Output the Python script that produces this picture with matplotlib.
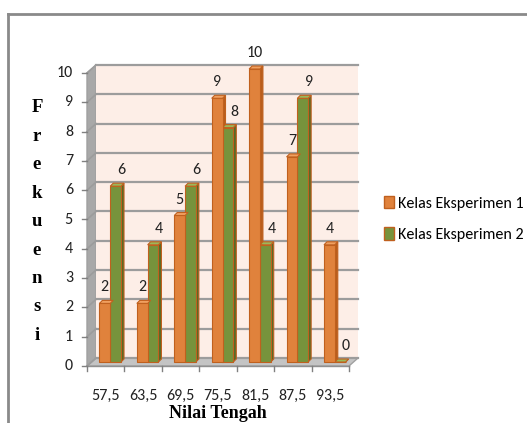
import matplotlib
matplotlib.use("Agg")
import matplotlib.pyplot as plt
from matplotlib.patches import Polygon, Patch
from matplotlib.lines import Line2D

# data
categories = ["57,5", "63,5", "69,5", "75,5", "81,5", "87,5", "93,5"]
kelas1 = [2, 2, 5, 9, 10, 7, 4]
kelas2 = [6, 4, 6, 8, 4, 9, 0]
series_names = ["Kelas Eksperimen 1", "Kelas Eksperimen 2"]
y_ticks = list(range(0, 11))

W, H = 527, 423
ORANGE = "#e0823c"
ORANGE_TOP = "#f0a060"
ORANGE_SIDE = "#b85e1c"
GREEN = "#77933c"
GREEN_TOP = "#9bb85a"
GREEN_SIDE = "#556b26"
EDGE = "#c0601e"
WALL = "#fdeee7"
GRID = "#9c9c9c"

sans = ["Carlito", "DejaVu Sans"]
serif = ["Liberation Serif", "DejaVu Serif"]
FS = 11.5

fig = plt.figure(figsize=(W / 100, H / 100), dpi=100)

# front plane of the axes: x 87..349 px, y(0)=366 px, y(10)=73 px
x0, x1, y0, y1 = 87, 349, 366, 73
ax = fig.add_axes([x0 / W, (H - y0) / H, (x1 - x0) / W, (y0 - y1) / H])
n = len(categories)
ax.set_xlim(0, n)
ax.set_ylim(0, 10)
ax.axis("off")

px_x = (x1 - x0) / n        # pixels per category
px_y = (y0 - y1) / 10.0     # pixels per unit
dx, dy = 9 / px_x, 8 / px_y           # depth of the box
bdx, bdy = 3 / px_x, 3 / px_y         # depth of a bar

# floor, side wall, back wall
ax.add_patch(Polygon([(0, 0), (n, 0), (n + dx, dy), (dx, dy)], closed=True,
                     fc="#c4c4c4", ec="#a0a0a0", lw=1, clip_on=False, zorder=1))
ax.add_patch(Polygon([(0, 0), (dx, dy), (dx, 10 + dy), (0, 10)], closed=True,
                     fc="#a8a8a8", ec="#a0a0a0", lw=1, clip_on=False, zorder=1))
ax.add_patch(Polygon([(dx, dy), (n + dx, dy), (n + dx, 10 + dy), (dx, 10 + dy)],
                     closed=True, fc=WALL, ec="none", clip_on=False, zorder=1))

for t in y_ticks:
    ax.add_line(Line2D([dx, n + dx], [t + dy, t + dy], color=GRID, lw=1.6,
                       clip_on=False, zorder=2))
    ax.add_line(Line2D([0, dx], [t, t + dy], color=GRID, lw=1.2,
                       clip_on=False, zorder=2))
    ax.add_line(Line2D([-5 / px_x, 0], [t, t], color="#808080", lw=1,
                       clip_on=False, zorder=2))
    ax.text(-14 / px_x, t, str(t), ha="right", va="center", fontsize=FS,
            family=sans, color="#222222")

# floor front edge and x ticks
ax.add_line(Line2D([0, n], [0, 0], color="#909090", lw=1, clip_on=False, zorder=2))
for i in range(n + 1):
    ax.add_line(Line2D([i, i], [0, -5 / px_y], color="#808080", lw=1,
                       clip_on=False, zorder=2))
for i, c in enumerate(categories):
    ax.text(i + 0.5, -30 / px_y, c, ha="center", va="center", fontsize=FS,
            family=sans, color="#222222")

# bars
w = 10.8 / px_x
base = dy / 2
shift = dx / 2


def draw_bars(xs, vals, front, top, side, label_dx):
    ax.bar(xs, vals, width=w, bottom=base, color=front, edgecolor=EDGE,
           linewidth=0.8, zorder=4, clip_on=False)
    for x, v in zip(xs, vals):
        l, r = x - w / 2, x + w / 2
        t = v + base
        ax.add_patch(Polygon([(l, t), (r, t), (r + bdx, t + bdy), (l + bdx, t + bdy)],
                             closed=True, fc=top, ec=EDGE, lw=0.8,
                             clip_on=False, zorder=4))
        ax.add_patch(Polygon([(r, base), (r + bdx, base + bdy), (r + bdx, t + bdy), (r, t)],
                             closed=True, fc=side, ec=EDGE, lw=0.8,
                             clip_on=False, zorder=3))
        ax.text(x + label_dx, t + 16 / px_y, str(v), ha="center", va="center",
                fontsize=FS, family=sans, color="#222222", zorder=6)


# green drawn first so the orange side face sits in front
draw_bars([i + 0.5 + w / 2 + shift for i in range(n)], kelas2,
          GREEN, GREEN_TOP, GREEN_SIDE, 6 / px_x)
draw_bars([i + 0.5 - w / 2 + shift for i in range(n)], kelas1,
          ORANGE, ORANGE_TOP, ORANGE_SIDE, 0)

# axis titles
fig.text(218 / W, 1 - 413 / H, "Nilai Tengah", ha="center", va="center",
         fontsize=13, fontweight="bold", family=serif)
for k, ch in enumerate("Frekuensi"):
    fig.text(37 / W, 1 - (108 + k * 28.4) / H, ch, ha="center", va="center",
             fontsize=13.5, fontweight="bold", family=serif)

# legend
handles = [Patch(fc=ORANGE, ec=EDGE, lw=1), Patch(fc=GREEN, ec=EDGE, lw=1)]
fig.legend(handles, series_names, loc="upper left",
           bbox_to_anchor=(384 / W, 1 - 196 / H), frameon=False,
           prop={"family": sans, "size": FS}, handlelength=0.65,
           handleheight=0.8, handletextpad=0.25, labelspacing=1.05,
           borderaxespad=0, borderpad=0)

# outer chart frame (open on right and bottom)
fig.add_artist(Line2D([8 / W, 8 / W], [0, 1 - 14 / H], transform=fig.transFigure,
                      color="#8a8a8a", lw=2))
fig.add_artist(Line2D([8 / W, 1], [1 - 14 / H, 1 - 14 / H], transform=fig.transFigure,
                      color="#8a8a8a", lw=2))

fig.savefig("out.png", dpi=100)
